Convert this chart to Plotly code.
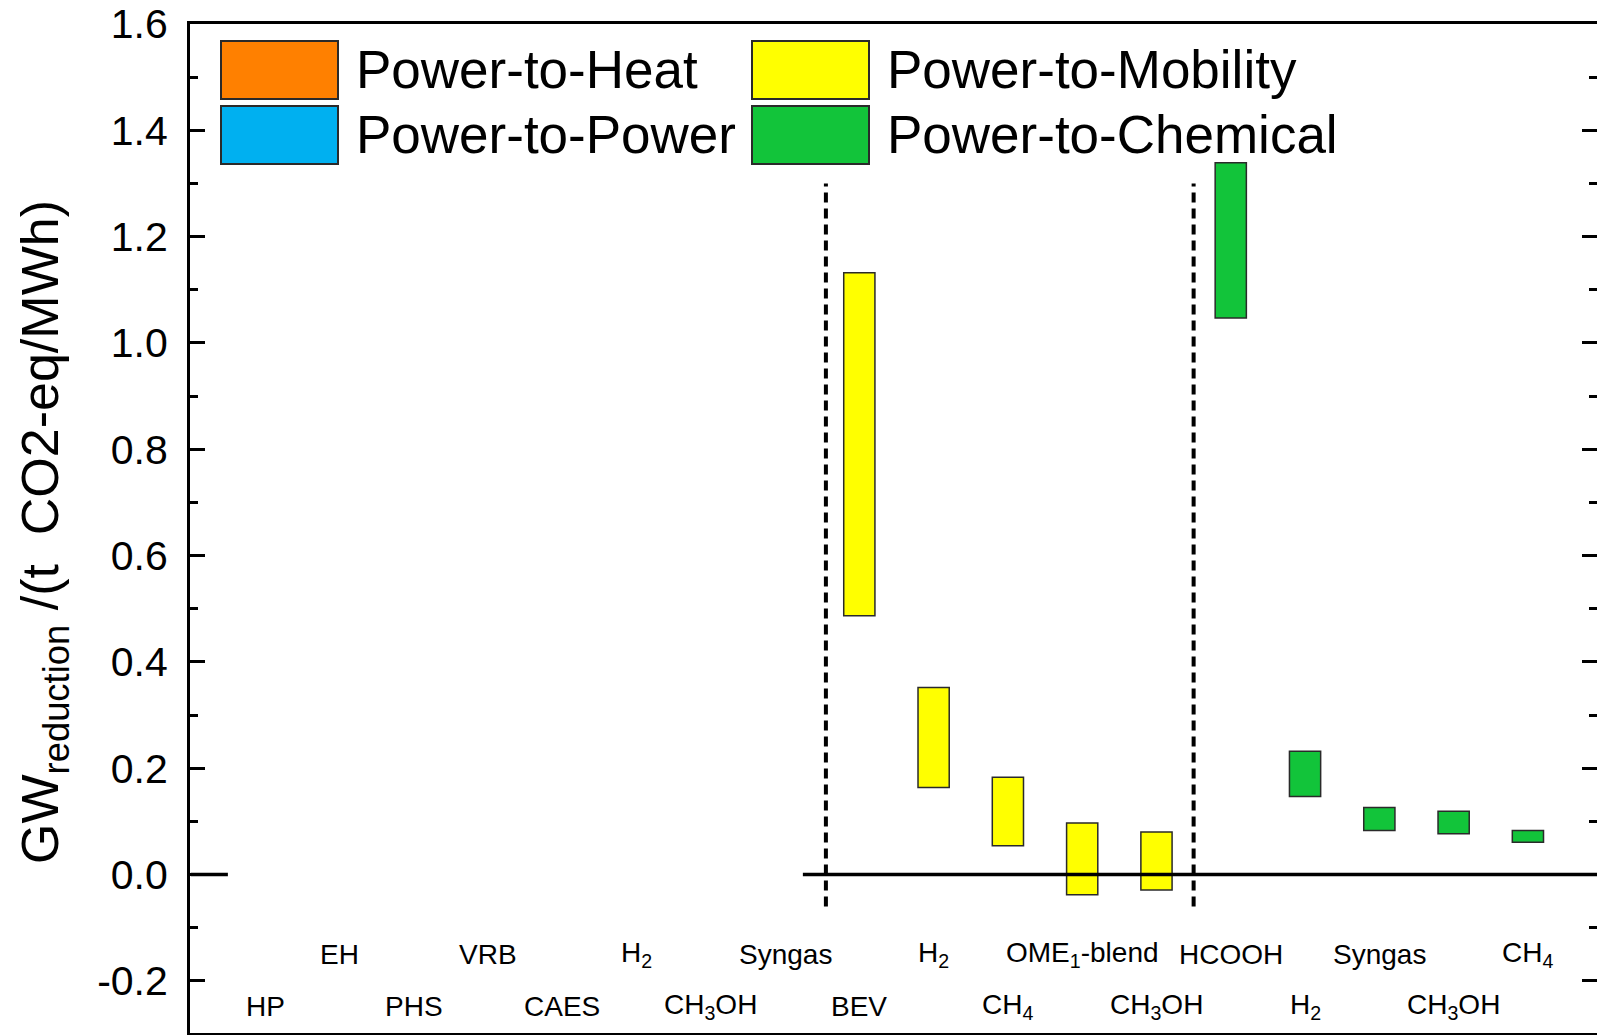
import plotly.graph_objects as go

# ---------------- data ----------------
categories = ["HP", "EH", "PHS", "VRB", "CAES", "H<sub>2</sub>", "CH<sub>3</sub>OH", "Syngas",
              "BEV", "H<sub>2</sub>", "CH<sub>4</sub>", "OME<sub>1</sub>-blend", "CH<sub>3</sub>OH",
              "HCOOH", "H<sub>2</sub>", "Syngas", "CH<sub>3</sub>OH", "CH<sub>4</sub>"]
positions = list(range(1, 19))
groups = (["Power-to-Heat"] * 2 + ["Power-to-Power"] * 6 +
          ["Power-to-Mobility"] * 5 + ["Power-to-Chemical"] * 5)
low = [None] * 8 + [0.487, 0.164, 0.054, -0.038, -0.029,
                    1.047, 0.147, 0.083, 0.077, 0.061]
high = [None] * 8 + [1.132, 0.352, 0.183, 0.097, 0.080,
                     1.339, 0.232, 0.126, 0.119, 0.083]
group_names = ["Power-to-Heat", "Power-to-Power", "Power-to-Mobility", "Power-to-Chemical"]
group_colors = ["#FF8000", "#00B0F0", "#FFFF00", "#12C43A"]
y_tickvals = [-0.2, 0.0, 0.2, 0.4, 0.6, 0.8, 1.0, 1.2, 1.4, 1.6]
y_ticktext = ["-0.2", "0.0", "0.2", "0.4", "0.6", "0.8", "1.0", "1.2", "1.4", "1.6"]
separators_x = [8.55, 13.5]
separator_y = [-0.06, 1.30]
zero_segments = [(0.0, 0.5), (8.24, 19.0)]
y_range = [-0.298, 1.6]
x_range = [-0.01, 18.93]

FONT = "Arial, 'Liberation Sans', sans-serif"
W, H = 1597, 1035
ML, MR, MT, MB = 190, 0, 24, 2

fig = go.Figure()

for name, col in zip(group_names, group_colors):
    xs, bases, heights = [], [], []
    for p, g, lo, hi in zip(positions, groups, low, high):
        if g == name and lo is not None:
            xs.append(p)
            bases.append(lo)
            heights.append(hi - lo)
    fig.add_trace(go.Bar(
        x=xs, y=heights, base=bases, width=0.42, name=name,
        marker=dict(color=col, line=dict(color="#2a2a2a", width=1.5)),
        showlegend=False,
    ))

# helper trace for the right-side tick axis
fig.add_trace(go.Scatter(x=[None], y=[None], yaxis="y2", showlegend=False, hoverinfo="skip"))

shapes = []
for x0, x1 in zero_segments:
    shapes.append(dict(type="line", xref="x", yref="y", x0=x0, x1=x1, y0=0, y1=0,
                       line=dict(color="black", width=3.5)))
for sx in separators_x:
    shapes.append(dict(type="line", xref="x", yref="y", x0=sx, x1=sx,
                       y0=separator_y[0], y1=separator_y[1],
                       line=dict(color="black", width=4, dash="10px,6px")))

# legend (drawn manually, large swatches)
PW = W - ML - MR
PH = H - MT - MB


def px(xp):
    return (xp - ML) / PW


def py(yp):
    return (H - MB - yp) / PH


legend_items = [
    (group_names[0], group_colors[0], 221, 41),
    (group_names[1], group_colors[1], 221, 106),
    (group_names[2], group_colors[2], 752, 41),
    (group_names[3], group_colors[3], 752, 106),
]
annotations = []
for name, col, lx, ly in legend_items:
    shapes.append(dict(type="rect", xref="paper", yref="paper",
                       x0=px(lx), x1=px(lx + 117), y0=py(ly + 58), y1=py(ly),
                       fillcolor=col, line=dict(color="#2a2a2a", width=2)))
    annotations.append(dict(xref="paper", yref="paper", x=px(lx + 133), y=py(ly + 29),
                            xanchor="left", yanchor="middle", text=name, showarrow=False,
                            font=dict(family=FONT, size=53, color="black")))

# category labels, staggered in two rows
for i, (p, lab) in enumerate(zip(positions, categories)):
    yv = -0.248 if p % 2 == 1 else -0.151
    annotations.append(dict(xref="x", yref="y", x=p, y=yv, text=lab, showarrow=False,
                            xanchor="center", yanchor="middle",
                            font=dict(family=FONT, size=28, color="black")))

# y-axis title
annotations.append(dict(xref="paper", yref="paper", x=0, y=py(532), xshift=-146,
                        text="GW<sub>reduction</sub> /(t  CO2-eq/MWh)", textangle=-90,
                        showarrow=False, xanchor="center", yanchor="middle",
                        font=dict(family=FONT, size=52, color="black")))

fig.update_layout(
    width=W, height=H,
    margin=dict(l=ML, r=MR, t=MT, b=MB, pad=0),
    paper_bgcolor="white", plot_bgcolor="white",
    barmode="overlay",
    showlegend=False,
    shapes=shapes,
    annotations=annotations,
    xaxis=dict(range=x_range, showgrid=False, zeroline=False, showticklabels=False,
               ticks="", showline=True, linecolor="black", linewidth=3, mirror=True),
    yaxis=dict(range=y_range, showgrid=False, zeroline=False,
               tickmode="array", tickvals=y_tickvals, ticktext=y_ticktext,
               ticks="inside", ticklen=15, tickwidth=3, tickcolor="black",
               showline=True, linecolor="black", linewidth=3, mirror=False,
               ticklabelstandoff=11,
               tickfont=dict(family=FONT, size=41, color="black"),
               minor=dict(dtick=0.1, tick0=0, ticks="inside", ticklen=8, tickwidth=3,
                          tickcolor="black", showgrid=False)),
    yaxis2=dict(range=y_range, overlaying="y", side="right", anchor="x",
                showgrid=False, zeroline=False, showline=False, showticklabels=False,
                tickmode="array", tickvals=y_tickvals,
                ticks="inside", ticklen=15, tickwidth=3, tickcolor="black",
                minor=dict(dtick=0.1, tick0=0, ticks="inside", ticklen=8, tickwidth=3,
                           tickcolor="black", showgrid=False)),
)

fig.write_html("out.html")
